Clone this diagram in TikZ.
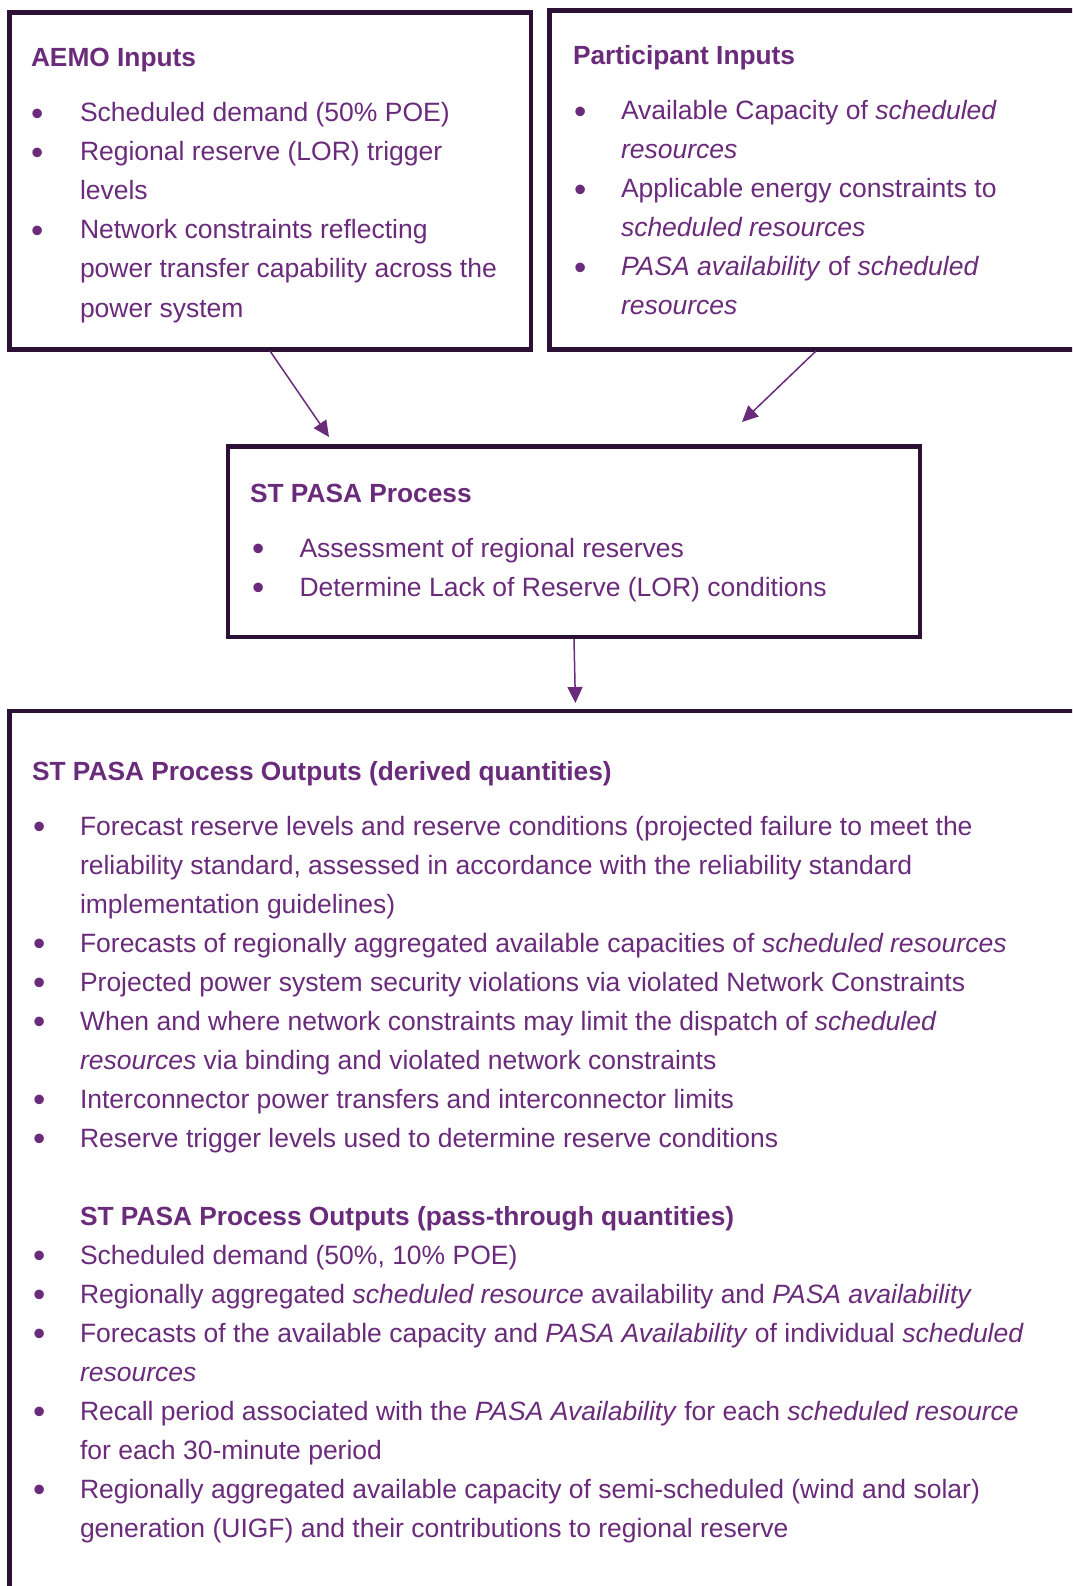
\documentclass[tikz,border=0pt]{standalone}
\usepackage{fontspec}
\setmainfont{Liberation Sans}
\usetikzlibrary{arrows.meta}
\definecolor{txt}{HTML}{6A2B7B}
\definecolor{frame}{HTML}{2C1035}
\newcommand\mybul[1]{\makebox[#1][l]{\raisebox{-3.6pt}{\fontsize{35}{39}\selectfont •}}}
\begin{document}
\begin{tikzpicture}[x=1pt,y=-1pt,
  box/.style={draw=frame,line width=4.5pt,outer sep=0pt,inner sep=0pt,anchor=north west},
  ln/.style={anchor=base west,inner sep=0pt,outer sep=0pt,text=txt,font=\fontsize{26.5}{39}\selectfont},
  hd/.style={anchor=base west,inner sep=0pt,outer sep=0pt,text=txt,font=\fontsize{26.3}{39}\selectfont\bfseries},
  conn/.style={draw=txt,line width=1.5pt,-{Triangle[length=16pt,width=15pt]}}]
\useasboundingbox (0,0) rectangle (1072,1586);
\clip (0,0) rectangle (1072,1586);
\fill[white] (0,0) rectangle (1072,1586);

% boxes
\node[box,minimum width=521.5pt,minimum height=337pt] (aemo) at (9.5,12.5) {};
\node[box,minimum width=560pt,minimum height=339pt] (part) at (549.5,10.5) {};
\node[box,minimum width=692pt,minimum height=190.5pt] (proc) at (228,446.5) {};
\node[box,minimum width=1100pt,minimum height=1000pt] (outp) at (9.5,711) {};

% connectors
\coordinate (a1s) at (270,351);
\coordinate (a1e) at (329,437);
\coordinate (a2s) at (816,351);
\coordinate (a2e) at (742,422);
\coordinate (a3s) at (574,639);
\coordinate (a3e) at (575.4,703);
\draw[conn] (a1s) -- (a1e);
\draw[conn] (a2s) -- (a2e);
\draw[conn] (a3s) -- (a3e);

% AEMO inputs
\node[hd] (aemoh) at (31,67) {AEMO Inputs};
\node[ln] (ae1) at (31,122) {\mybul{49pt}Scheduled demand (50\% POE)};
\node[ln] (ae2) at (31,161) {\mybul{49pt}Regional reserve (LOR) trigger};
\node[ln] (ae3) at (80,200) {levels};
\node[ln] (ae4) at (31,239) {\mybul{49pt}Network constraints reflecting};
\node[ln] (ae5) at (80,278) {power transfer capability across the};
\node[ln] (ae6) at (80,317) {power system};

% Participant inputs
\node[hd] (parth) at (573,65) {Participant Inputs};
\node[ln] (pa1) at (574,120) {\mybul{47pt}Available Capacity of \textit{scheduled}};
\node[ln] (pa2) at (621,159) {\textit{resources}};
\node[ln] (pa3) at (574,198) {\mybul{47pt}Applicable energy constraints to};
\node[ln] (pa4) at (621,237) {\textit{scheduled resources}};
\node[ln] (pa5) at (574,276) {\mybul{47pt}\textit{PASA availability} of \textit{scheduled}};
\node[ln] (pa6) at (621,315) {\textit{resources}};

% Process
\node[hd] (proch) at (250,502) {ST PASA Process};
\node[ln] (pr1) at (252,557) {\mybul{47.5pt}Assessment of regional reserves};
\node[ln] (pr2) at (252,596) {\mybul{47.5pt}Determine Lack of Reserve (LOR) conditions};

% Outputs
\node[hd] (outh) at (32,780) {ST PASA Process Outputs (derived quantities)};
\node[ln] (o1) at (33,835) {\mybul{47pt}Forecast reserve levels and reserve conditions (projected failure to meet the};
\node[ln] (o2) at (80,874) {reliability standard, assessed in accordance with the reliability standard};
\node[ln] (o3) at (80,913) {implementation guidelines)};
\node[ln] (o4) at (33,952) {\mybul{47pt}Forecasts of regionally aggregated available capacities of \textit{scheduled resources}};
\node[ln] (o5) at (33,991) {\mybul{47pt}Projected power system security violations via violated Network Constraints};
\node[ln] (o6) at (33,1030) {\mybul{47pt}When and where network constraints may limit the dispatch of \textit{scheduled}};
\node[ln] (o7) at (80,1069) {\textit{resources} via binding and violated network constraints};
\node[ln] (o8) at (33,1108) {\mybul{47pt}Interconnector power transfers and interconnector limits};
\node[ln] (o9) at (33,1147) {\mybul{47pt}Reserve trigger levels used to determine reserve conditions};

\node[hd] (outh2) at (80,1225) {ST PASA Process Outputs (pass-through quantities)};
\node[ln] (p1) at (33,1264) {\mybul{47pt}Scheduled demand (50\%, 10\% POE)};
\node[ln] (p2) at (33,1303) {\mybul{47pt}Regionally aggregated \textit{scheduled resource} availability and \textit{PASA availability}};
\node[ln] (p3) at (33,1342) {\mybul{47pt}Forecasts of the available capacity and \textit{PASA Availability} of individual \textit{scheduled}};
\node[ln] (p4) at (80,1381) {\textit{resources}};
\node[ln] (p5) at (33,1420) {\mybul{47pt}Recall period associated with the \textit{PASA Availability} for each \textit{scheduled resource}};
\node[ln] (p6) at (80,1459) {for each 30-minute period};
\node[ln] (p7) at (33,1498) {\mybul{47pt}Regionally aggregated available capacity of semi-scheduled (wind and solar)};
\node[ln] (p8) at (80,1537) {generation (UIGF) and their contributions to regional reserve};
\end{tikzpicture}
\end{document}
